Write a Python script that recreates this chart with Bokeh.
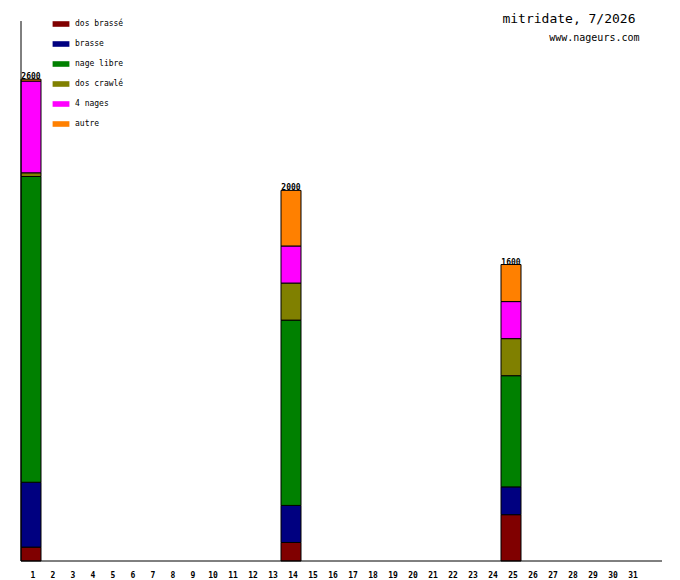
from bokeh.plotting import figure
from bokeh.models import Range1d, ColumnDataSource, Legend, LegendItem, Label
from bokeh.core.properties import value
from bokeh.embed import file_html
from bokeh.resources import INLINE

# ---- data ----
days = [1, 14, 25]
dos_brasse = [75, 100, 250]
brasse = [350, 200, 150]
nage_libre = [1650, 1000, 600]
dos_crawle = [20, 200, 200]
quatre_nages = [495, 200, 200]
autre = [10, 300, 200]
series_names = ["dos brassé", "brasse", "nage libre", "dos crawlé", "4 nages", "autre"]
series_colors = ["#800000", "#000080", "#008000", "#808000", "#FF00FF", "#FF8000"]
tick_labels = [str(d) for d in range(1, 32)]
title_text = "mitridate, 7/2026"
site_text = "www.nageurs.com"
y_axis_max = 2914

FONT = "DejaVu Sans Mono"
W, H = 680, 580
PX_PER_DAY = 20.0
PX_PER_UNIT = 0.1853

x_start = 0.5 - 20.5 / PX_PER_DAY
x_end = x_start + W / PX_PER_DAY
y_end = 560.5 / PX_PER_UNIT
y_start = y_end - H / PX_PER_UNIT

p = figure(width=W, height=H, output_backend="svg", toolbar_location=None,
           x_range=Range1d(x_start, x_end), y_range=Range1d(y_start, y_end),
           min_border=0, min_border_left=0, min_border_right=0,
           min_border_top=0, min_border_bottom=0)
p.xaxis.visible = False
p.yaxis.visible = False
p.xgrid.visible = False
p.ygrid.visible = False
p.outline_line_color = None
p.background_fill_color = "white"
p.border_fill_color = "white"

series = [dos_brasse, brasse, nage_libre, dos_crawle, quatre_nages, autre]
data = {"day": days}
keys = []
for i, s in enumerate(series):
    k = "s%d" % i
    keys.append(k)
    data[k] = s
data["total"] = [sum(v) for v in zip(*series)]
data["total_txt"] = [str(t) for t in data["total"]]
src = ColumnDataSource(data)

p.vbar_stack(keys, x="day", width=1.0, source=src, color=series_colors,
             line_color="black", line_width=1)

# totals
p.text(x="day", y="total", text="total_txt", source=src,
       text_font=value(FONT), text_font_size="8px", text_font_style="bold",
       text_align="center", text_baseline="bottom", text_color="black")

# axes
p.segment(x0=[0.5], y0=[0], x1=[0.5], y1=[y_axis_max], line_color="black", line_width=1)
p.segment(x0=[0.5], y0=[0], x1=[32.55], y1=[0], line_color="black", line_width=1)

# tick labels
tick_src = ColumnDataSource(dict(x=[d + 0.1 for d in range(1, 32)],
                                 y=[-13.5 / PX_PER_UNIT] * 31, t=tick_labels))
p.text(x="x", y="y", text="t", source=tick_src, text_font=value(FONT),
       text_font_size="8px", text_font_style="bold", text_align="center",
       text_baseline="middle", text_color="black")

# legend (zero-height swatch renderers, invisible in the plot)
items = []
for name, col in zip(series_names, series_colors):
    r = p.vbar(x=[days[0]], top=[0], bottom=[0], width=1, fill_color=col, line_color=None)
    items.append(LegendItem(label=name, renderers=[r]))
legend = Legend(items=items, location=(50, 452.5),
                glyph_width=21, glyph_height=7, label_height=7, label_width=10,
                spacing=11, padding=0, margin=0, label_standoff=4,
                label_text_font=FONT, label_text_font_size="8px",
                label_text_color="black",
                border_line_color=None, background_fill_alpha=0)
p.add_layout(legend, "center")

# title texts
p.add_layout(Label(x=635, y=H - 18, x_units="screen", y_units="screen", text=title_text,
                   text_font=FONT, text_font_size="13px", text_align="right",
                   text_baseline="middle", text_color="black"))
p.add_layout(Label(x=639, y=H - 37, x_units="screen", y_units="screen", text=site_text,
                   text_font=FONT, text_font_size="10px", text_align="right",
                   text_baseline="middle", text_color="black"))

open("out.html", "w").write(file_html(p, INLINE))
